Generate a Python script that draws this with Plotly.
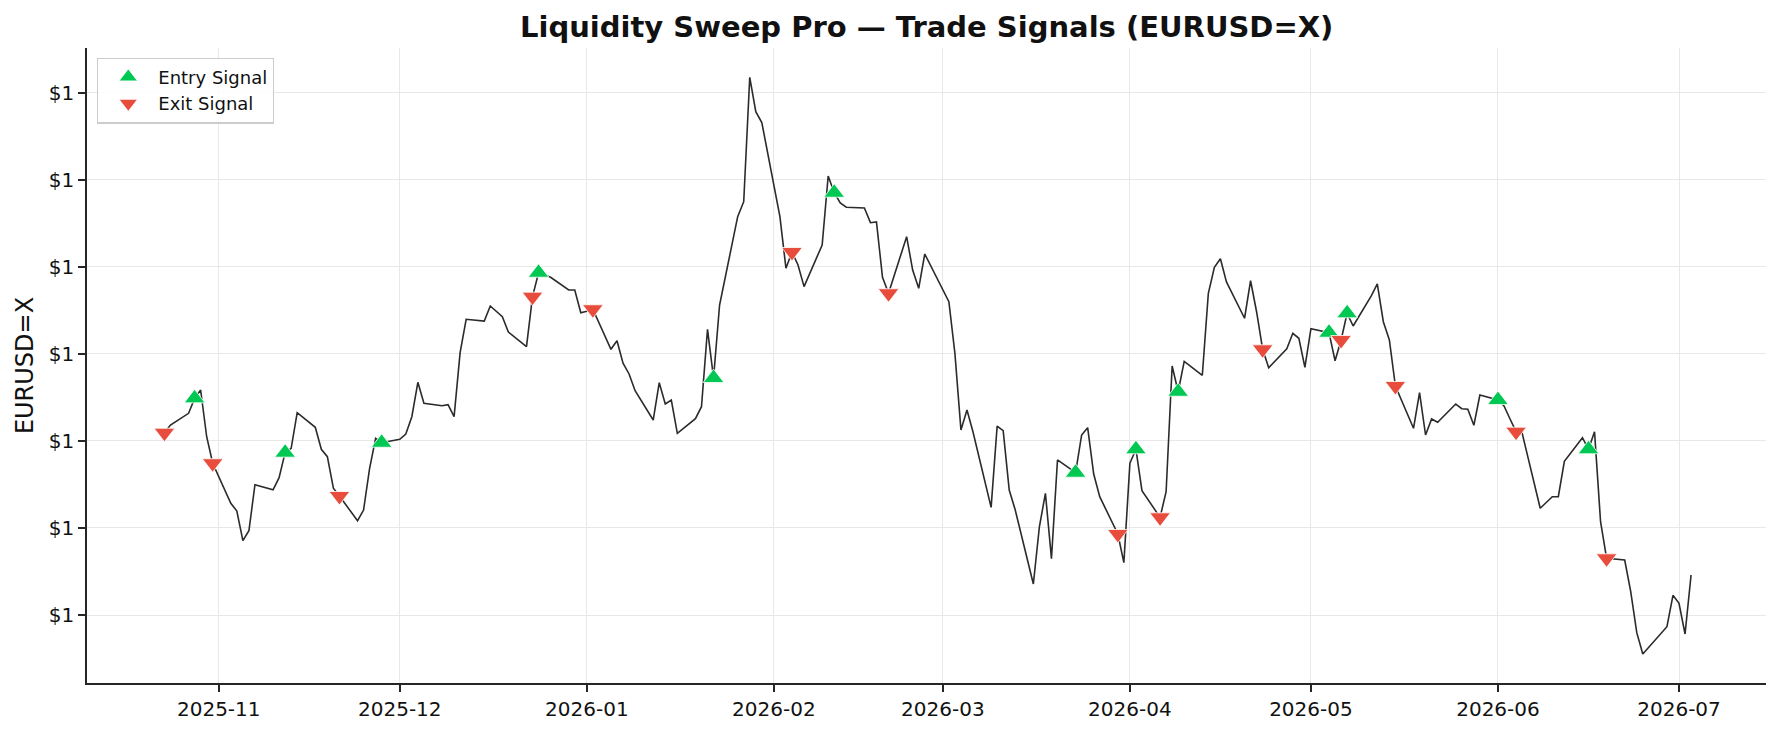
import plotly.graph_objects as go

dates = [
    "2025-10-23", "2025-10-24", "2025-10-27", "2025-10-28", "2025-10-29", "2025-10-30", "2025-10-31",
    "2025-11-03", "2025-11-04", "2025-11-05", "2025-11-06", "2025-11-07",
    "2025-11-10", "2025-11-11", "2025-11-12", "2025-11-13", "2025-11-14",
    "2025-11-17", "2025-11-18", "2025-11-19", "2025-11-20", "2025-11-21",
    "2025-11-24", "2025-11-25", "2025-11-26", "2025-11-27", "2025-11-28",
    "2025-12-01", "2025-12-02", "2025-12-03", "2025-12-04", "2025-12-05",
    "2025-12-08", "2025-12-09", "2025-12-10", "2025-12-11", "2025-12-12",
    "2025-12-15", "2025-12-16", "2025-12-17", "2025-12-18", "2025-12-19",
    "2025-12-22", "2025-12-23", "2025-12-24", "2025-12-26",
    "2025-12-29", "2025-12-30", "2025-12-31", "2026-01-01", "2026-01-02",
    "2026-01-05", "2026-01-06", "2026-01-07", "2026-01-08", "2026-01-09",
    "2026-01-12", "2026-01-13", "2026-01-14", "2026-01-15", "2026-01-16",
    "2026-01-19", "2026-01-20", "2026-01-21", "2026-01-22", "2026-01-23",
    "2026-01-26", "2026-01-27", "2026-01-28", "2026-01-29", "2026-01-30",
    "2026-02-02", "2026-02-03", "2026-02-04", "2026-02-05", "2026-02-06",
    "2026-02-09", "2026-02-10", "2026-02-11", "2026-02-12", "2026-02-13",
    "2026-02-16", "2026-02-17", "2026-02-18", "2026-02-19", "2026-02-20",
    "2026-02-23", "2026-02-24", "2026-02-25", "2026-02-26", "2026-02-27",
    "2026-03-02", "2026-03-03", "2026-03-04", "2026-03-05", "2026-03-06",
    "2026-03-09", "2026-03-10", "2026-03-11", "2026-03-12", "2026-03-13",
    "2026-03-16", "2026-03-17", "2026-03-18", "2026-03-19", "2026-03-20",
    "2026-03-23", "2026-03-24", "2026-03-25", "2026-03-26", "2026-03-27",
    "2026-03-30", "2026-03-31", "2026-04-01", "2026-04-02", "2026-04-03",
    "2026-04-06", "2026-04-07", "2026-04-08", "2026-04-09", "2026-04-10",
    "2026-04-13", "2026-04-14", "2026-04-15", "2026-04-16", "2026-04-17",
    "2026-04-20", "2026-04-21", "2026-04-22", "2026-04-23", "2026-04-24",
    "2026-04-27", "2026-04-28", "2026-04-29", "2026-04-30", "2026-05-01",
    "2026-05-04", "2026-05-05", "2026-05-06", "2026-05-07", "2026-05-08",
    "2026-05-11", "2026-05-12", "2026-05-13", "2026-05-14", "2026-05-15",
    "2026-05-18", "2026-05-19", "2026-05-20", "2026-05-21", "2026-05-22",
    "2026-05-25", "2026-05-26", "2026-05-27", "2026-05-28", "2026-05-29",
    "2026-06-01", "2026-06-02", "2026-06-03", "2026-06-04", "2026-06-05",
    "2026-06-08", "2026-06-09", "2026-06-10", "2026-06-11", "2026-06-12",
    "2026-06-15", "2026-06-16", "2026-06-17", "2026-06-18", "2026-06-19",
    "2026-06-22", "2026-06-23", "2026-06-24", "2026-06-25", "2026-06-26",
    "2026-06-29", "2026-06-30", "2026-07-01", "2026-07-02", "2026-07-03",
]

close = [
    1.16094, 1.16183, 1.16317, 1.16489, 1.16585, 1.16048, 1.15743,
    1.15283, 1.15195, 1.14854, 1.14968, 1.15497,
    1.15439, 1.15577, 1.15865, 1.15915, 1.16324,
    1.16156, 1.15904, 1.15819, 1.15456, 1.15367,
    1.15083, 1.15206, 1.15685, 1.16030, 1.15979,
    1.16018, 1.16079, 1.16278, 1.16673, 1.16432,
    1.16404, 1.16416, 1.16278, 1.17013, 1.17397,
    1.17377, 1.17550, 1.17492, 1.17427, 1.17251,
    1.17082, 1.17657, 1.17932, 1.17880,
    1.17734, 1.17734, 1.17473, 1.17489, 1.17512,
    1.17052, 1.17151, 1.16892, 1.16769, 1.16577,
    1.16240, 1.16669, 1.16424, 1.16470, 1.16087,
    1.16255, 1.16393, 1.17282, 1.16723, 1.17561,
    1.18576, 1.18748, 1.20177, 1.19782, 1.19656,
    1.18576, 1.17983, 1.18170, 1.18021, 1.17772,
    1.18251, 1.19043, 1.18851, 1.18733, 1.18684,
    1.18676, 1.18507, 1.18515, 1.17880, 1.17696,
    1.18346, 1.17963, 1.17753, 1.18147, 1.18009,
    1.17599, 1.17006, 1.16125, 1.16355, 1.16102,
    1.15237, 1.16171, 1.16117, 1.15436, 1.15206,
    1.14356, 1.15014, 1.15398, 1.14647, 1.15781,
    1.15635, 1.16068, 1.16152, 1.15620, 1.15359,
    1.14931, 1.14601, 1.15743, 1.15904, 1.15428,
    1.15122, 1.15416, 1.16861, 1.16565, 1.16914,
    1.16754, 1.17696, 1.17994, 1.18093, 1.17826,
    1.17409, 1.17840, 1.17481, 1.17052, 1.16841,
    1.17059, 1.17236, 1.17179, 1.16846, 1.17289,
    1.17243, 1.16921, 1.17159, 1.17466, 1.17320,
    1.17665, 1.17803, 1.17369, 1.17159, 1.16631,
    1.16145, 1.16554, 1.16068, 1.16252, 1.16214,
    1.16424, 1.16370, 1.16363, 1.16179, 1.16527,
    1.16470, 1.16401, 1.16252, 1.16106, 1.16091,
    1.15226, 1.15292, 1.15359, 1.15359, 1.15766,
    1.16037, 1.15904, 1.16106, 1.15072, 1.14651,
    1.14632, 1.14268, 1.13797, 1.13552, 1.13632,
    1.13866, 1.14226, 1.14134, 1.13782, 1.14460,
]

entry_dates = [
    "2025-10-28", "2025-11-12", "2025-11-28", "2025-12-24", "2026-01-22",
    "2026-02-11", "2026-03-23", "2026-04-02", "2026-04-09", "2026-05-04",
    "2026-05-07", "2026-06-01", "2026-06-16",
]
exit_dates = [
    "2025-10-23", "2025-10-31", "2025-11-21", "2025-12-23", "2026-01-02",
    "2026-02-04", "2026-02-20", "2026-03-30", "2026-04-06", "2026-04-23",
    "2026-05-06", "2026-05-15", "2026-06-04", "2026-06-19",
]

y_tickvals = [1.14, 1.15, 1.16, 1.17, 1.18, 1.19, 1.20]
y_ticktext = ["$1"] * len(y_tickvals)

price_by_date = dict(zip(dates, close))
entry_y = [price_by_date[d] for d in entry_dates]
exit_y = [price_by_date[d] for d in exit_dates]

FONT = "DejaVu Sans"
AXIS_COLOR = "#262626"
GRID_COLOR = "#e8e8e8"

fig = go.Figure()
fig.add_trace(go.Scatter(
    x=dates, y=close, mode="lines",
    line=dict(color="#2b2b2b", width=1.6),
    showlegend=False, hoverinfo="skip",
))
fig.add_trace(go.Scatter(
    x=entry_dates, y=entry_y, mode="markers", name="Entry Signal",
    marker=dict(symbol="triangle-up", size=18, color="#00C853",
                line=dict(color="white", width=0.8)),
))
fig.add_trace(go.Scatter(
    x=exit_dates, y=exit_y, mode="markers", name="Exit Signal",
    marker=dict(symbol="triangle-down", size=18, color="#E74C3C",
                line=dict(color="white", width=0.8)),
))

fig.update_layout(
    width=1781, height=733,
    margin=dict(l=87, r=15, t=48, b=50),
    paper_bgcolor="white", plot_bgcolor="white",
    font=dict(family=FONT, size=20, color="#111111"),
    title=dict(
        text="<b>Liquidity Sweep Pro — Trade Signals (EURUSD=X)</b>",
        font=dict(family=FONT, size=29, color="#111111"),
        x=0.5203, xanchor="center", y=1 - 27 / 733, yanchor="middle",
    ),
    legend=dict(
        x=0.006, y=0.985, xanchor="left", yanchor="top",
        bgcolor="rgba(255,255,255,0.85)", bordercolor="#cccccc", borderwidth=1.2,
        font=dict(family=FONT, size=18, color="#111111"),
        itemwidth=50, tracegroupgap=0,
    ),
    xaxis=dict(
        type="date",
        range=["2025-10-10 04:00", "2026-07-15 10:00"],
        tick0="2025-11-01", dtick="M1", tickformat="%Y-%m",
        showgrid=True, gridcolor=GRID_COLOR, gridwidth=1,
        showline=True, linecolor=AXIS_COLOR, linewidth=1.6,
        ticks="outside", ticklen=7, tickwidth=1.6, tickcolor=AXIS_COLOR,
        tickfont=dict(family=FONT, size=20, color="#111111"),
        zeroline=False,
    ),
    yaxis=dict(
        range=[1.13219, 1.205135],
        tickmode="array", tickvals=y_tickvals, ticktext=y_ticktext,
        showgrid=True, gridcolor=GRID_COLOR, gridwidth=1,
        showline=True, linecolor=AXIS_COLOR, linewidth=1.6,
        ticks="outside", ticklen=7, tickwidth=1.6, tickcolor=AXIS_COLOR,
        tickfont=dict(family=FONT, size=20, color="#111111"),
        title=dict(text="EURUSD=X", font=dict(family=FONT, size=24, color="#111111"), standoff=8),
        zeroline=False,
    ),
)

fig.write_html("out.html")
